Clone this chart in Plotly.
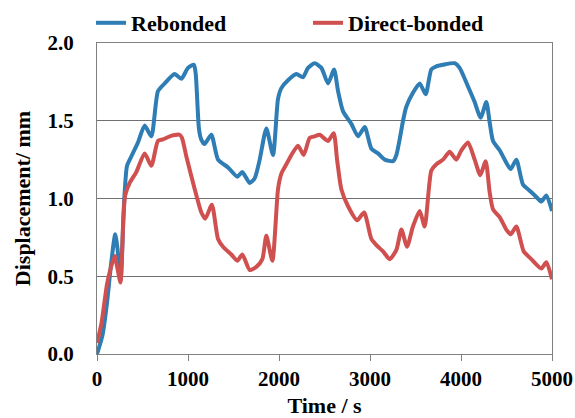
import plotly.graph_objects as go

# Rebonded series
t_rebonded = [0, 60, 110, 155, 200, 225, 258, 300, 330, 377, 450, 524, 597, 670, 744, 853, 927,
              1000, 1065, 1085, 1120, 1145, 1183, 1256, 1330, 1440, 1542, 1597, 1678, 1733, 1788,
              1861, 1934, 1989, 2026, 2099, 2191, 2264, 2319, 2392, 2466, 2539, 2605, 2649, 2704,
              2795, 2869, 2942, 3015, 3088, 3162, 3253, 3290, 3326, 3363, 3399, 3472, 3546, 3612,
              3674, 3729, 3802, 3930, 3985, 4077, 4150, 4216, 4278, 4315, 4352, 4425, 4498, 4546,
              4608, 4681, 4755, 4828, 4883, 4938, 5000]
v_rebonded = [0.00, 0.12, 0.33, 0.58, 0.77, 0.68, 0.47, 1.00, 1.21, 1.27, 1.36, 1.47, 1.40, 1.69, 1.74, 1.80, 1.77,
              1.84, 1.86, 1.80, 1.45, 1.38, 1.35, 1.41, 1.25, 1.20, 1.14, 1.17, 1.10, 1.13, 1.25,
              1.45, 1.28, 1.64, 1.71, 1.76, 1.80, 1.78, 1.84, 1.87, 1.84, 1.74, 1.83, 1.69, 1.56,
              1.48, 1.40, 1.46, 1.32, 1.29, 1.25, 1.24, 1.28, 1.38, 1.50, 1.59, 1.68, 1.74, 1.67,
              1.83, 1.85, 1.86, 1.87, 1.84, 1.72, 1.62, 1.52, 1.62, 1.49, 1.37, 1.31, 1.23, 1.19,
              1.25, 1.09, 1.05, 1.01, 0.98, 1.02, 0.92]

# Direct-bonded series
t_direct = [0, 50, 110, 150, 195, 225, 258, 290, 310, 359, 432, 524, 597, 670, 725, 799, 908, 934,
            982, 1074, 1147, 1190, 1262, 1330, 1385, 1476, 1542, 1597, 1678, 1751, 1817, 1861, 1927,
            1989, 2026, 2081, 2136, 2209, 2271, 2337, 2392, 2447, 2539, 2601, 2638, 2685, 2759,
            2858, 2935, 3015, 3070, 3143, 3216, 3290, 3345, 3407, 3472, 3546, 3601, 3674, 3729,
            3802, 3875, 3949, 4004, 4077, 4150, 4212, 4271, 4315, 4352, 4425, 4498, 4546, 4608,
            4689, 4773, 4883, 4938, 5000]
v_direct = [0.07, 0.20, 0.45, 0.55, 0.63, 0.55, 0.46, 0.88, 1.02, 1.10, 1.17, 1.29, 1.21, 1.37, 1.38, 1.40, 1.41, 1.39,
            1.27, 1.06, 0.91, 0.87, 0.96, 0.74, 0.69, 0.64, 0.60, 0.64, 0.54, 0.56, 0.61, 0.76, 0.60,
            1.06, 1.16, 1.22, 1.28, 1.34, 1.28, 1.39, 1.40, 1.41, 1.37, 1.42, 1.25, 1.06, 0.95,
            0.86, 0.91, 0.74, 0.70, 0.66, 0.61, 0.67, 0.80, 0.69, 0.82, 0.92, 0.82, 1.18, 1.22,
            1.25, 1.30, 1.25, 1.31, 1.36, 1.25, 1.15, 1.24, 1.04, 0.93, 0.88, 0.80, 0.77, 0.82,
            0.66, 0.61, 0.55, 0.59, 0.48]

x_ticks = [0, 1000, 2000, 3000, 4000, 5000]
y_ticks = [0.0, 0.5, 1.0, 1.5, 2.0]
y_tick_text = ["0.0", "0.5", "1.0", "1.5", "2.0"]

FONT = "Liberation Serif, Times New Roman, serif"
BLUE = "#2E7DB5"
RED = "#D04F4F"

fig = go.Figure()
fig.add_trace(go.Scatter(x=t_rebonded, y=v_rebonded, mode="lines", name="Rebonded",
                         line=dict(color=BLUE, width=4, shape="spline", smoothing=0.6)))
fig.add_trace(go.Scatter(x=t_direct, y=v_direct, mode="lines", name="Direct-bonded",
                         line=dict(color=RED, width=4, shape="spline", smoothing=0.6)))

fig.update_layout(
    width=575, height=418,
    margin=dict(l=97, r=23, t=43, b=64, autoexpand=False),
    plot_bgcolor="white", paper_bgcolor="white",
    font=dict(family=FONT, size=21, color="black", weight="bold"),
    showlegend=True,
    legend=dict(orientation="h", xref="container", yref="container",
                x=91/575, y=1 - 2/418, xanchor="left", yanchor="top",
                entrywidth=172, entrywidthmode="pixels", itemwidth=30,
                font=dict(family=FONT, size=22, color="black", weight="bold"),
                bgcolor="rgba(0,0,0,0)", borderwidth=0),
    xaxis=dict(range=[0, 5000], tickvals=x_ticks, ticks="outside", ticklen=6, tickwidth=1,
               tickcolor="#808080", showline=True, linecolor="#808080", linewidth=1, mirror=True,
               showgrid=False, zeroline=False, automargin=False,
               tickfont=dict(family=FONT, size=21, color="black", weight="bold"),
               title=dict(text="Time / s", font=dict(family=FONT, size=22, color="black", weight="bold"))),
    yaxis=dict(range=[0, 2.0], tickvals=y_ticks, ticktext=y_tick_text, ticks="",
               showline=True, linecolor="#808080", linewidth=1, mirror=True,
               showgrid=True, gridcolor="#707070", gridwidth=1, zeroline=False, automargin=False,
               ticklabelstandoff=18,
               tickfont=dict(family=FONT, size=21, color="black", weight="bold"),
               title=dict(text="Displacement/ mm", standoff=10,
                          font=dict(family=FONT, size=22, color="black", weight="bold"))),
)

fig.write_html("out.html")
